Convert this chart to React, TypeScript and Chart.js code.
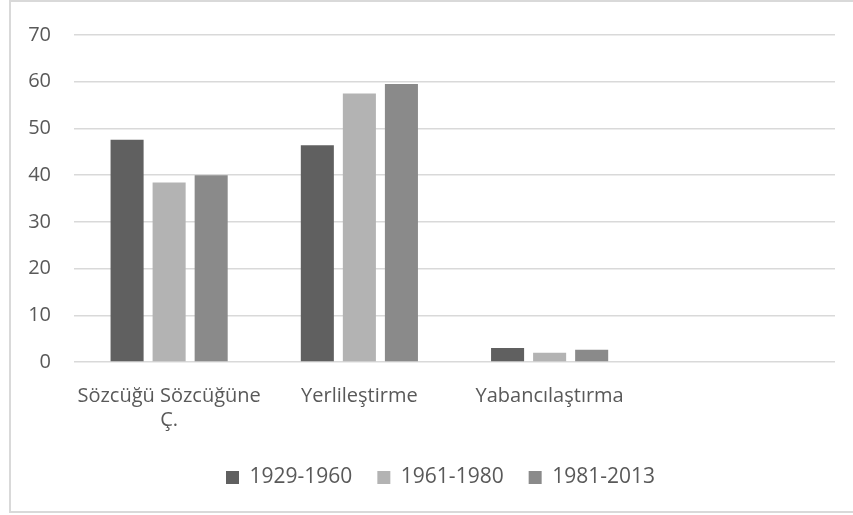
import React, { useEffect, useRef } from "react";
import { Chart, registerables } from "chart.js";

Chart.register(...registerables);

const categories: (string | string[])[] = [
  ["Sözcüğü Sözcüğüne", "Ç."],
  "Yerlileştirme",
  "Yabancılaştırma",
  "",
];
const seriesNames = ["1929-1960", "1961-1980", "1981-2013"];
const series1929 = [47.6, 46.4, 3.0, null];
const series1961 = [38.4, 57.5, 2.0, null];
const series1981 = [40.0, 59.5, 2.6, null];
const seriesColors = ["#606060", "#b3b3b3", "#8a8a8a"];
const yTicks = [0, 10, 20, 30, 40, 50, 60, 70];

const FONT = "'Open Sans', sans-serif";
const TEXT = "#595959";

const legendShift = {
  id: "legendShift",
  afterLayout(chart: any) {
    const l = chart.legend;
    if (l) {
      l.left += 23;
      l.right += 23;
    }
  },
};

export default function App() {
  const ref = useRef<HTMLCanvasElement | null>(null);

  useEffect(() => {
    document.body.style.margin = "0";
    const ctx = ref.current!;
    const values = [series1929, series1961, series1981];
    const chart = new Chart(ctx, {
      type: "bar",
      data: {
        labels: categories,
        datasets: seriesNames.map((name, i) => ({
          label: name,
          data: values[i],
          backgroundColor: seriesColors[i],
          borderWidth: 0,
          categoryPercentage: 0.663,
          barPercentage: 0.786,
        })),
      },
      plugins: [legendShift],
      options: {
        animation: false,
        responsive: false,
        maintainAspectRatio: false,
        layout: { padding: { left: 0, right: 18, top: 17, bottom: 17 } },
        plugins: {
          tooltip: { enabled: false },
          legend: {
            position: "bottom",
            labels: {
              boxWidth: 13,
              boxHeight: 13,
              padding: 25,
              color: TEXT,
              font: { family: FONT, size: 21 },
            },
          },
        },
        scales: {
          x: {
            grid: { display: false },
            border: { display: false },
            ticks: {
              color: TEXT,
              font: { family: FONT, size: 20 },
              padding: 14,
              maxRotation: 0,
              autoSkip: false,
            },
            afterFit: (s: any) => {
              s.height = 80;
            },
          },
          y: {
            min: 0,
            max: 70,
            afterBuildTicks: (s: any) => {
              s.ticks = yTicks.map((v) => ({ value: v }));
            },
            grid: { color: "#d9d9d9", lineWidth: 1.5, drawTicks: false },
            border: { display: false },
            ticks: {
              color: TEXT,
              font: { family: FONT, size: 20 },
              padding: 23,
            },
            afterFit: (s: any) => {
              s.width = 74;
            },
          },
        },
      },
    });
    return () => chart.destroy();
  }, []);

  return (
    <div style={{ position: "relative", width: 853, height: 515, background: "#fff" }}>
      <div
        style={{
          position: "absolute",
          left: 9,
          top: 0,
          width: 900,
          height: 513,
          border: "2px solid #d9d9d9",
          boxSizing: "border-box",
        }}
      />
      <canvas ref={ref} width={853} height={515} style={{ position: "absolute", left: 0, top: 0 }} />
    </div>
  );
}
